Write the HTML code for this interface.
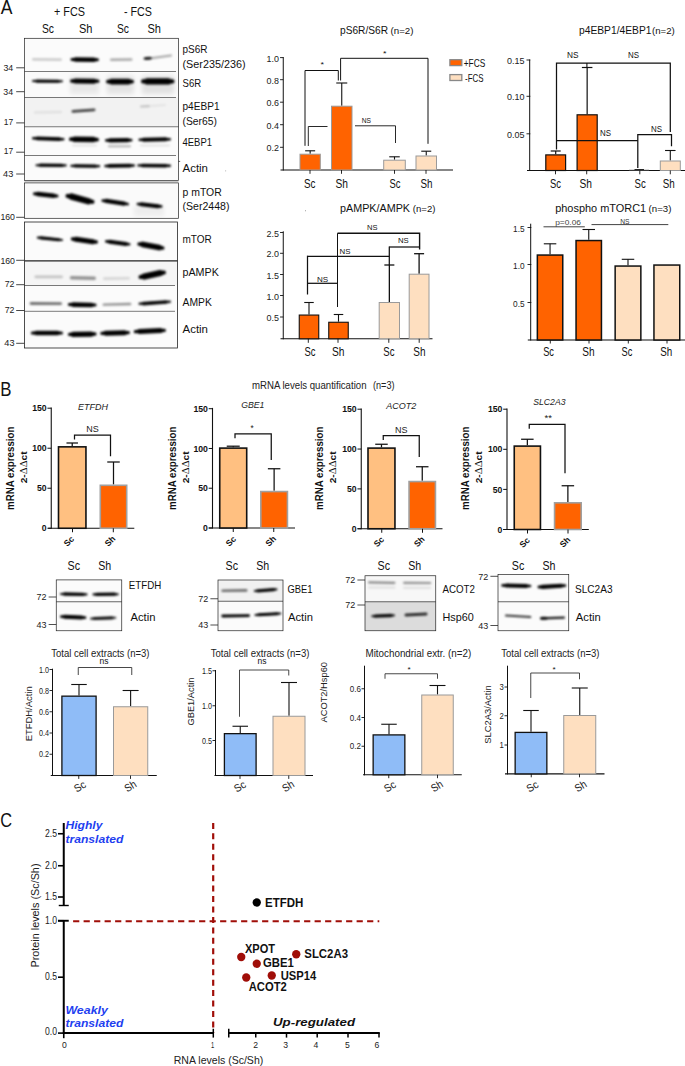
<!DOCTYPE html>
<html><head><meta charset="utf-8"><title>Figure</title>
<style>
html,body{margin:0;padding:0;background:#fff}
body{width:685px;height:1066px;overflow:hidden}
svg{display:block;font-family:"Liberation Sans",sans-serif}
</style></head><body>
<svg width="685" height="1066" viewBox="0 0 685 1066" fill="#111">
<defs>
<filter id="b1" filterUnits="userSpaceOnUse" x="0" y="0" width="685" height="1066"><feGaussianBlur stdDeviation="0.9"/></filter>
<filter id="b2" x="-20%" y="-100%" width="140%" height="300%"><feGaussianBlur stdDeviation="2"/></filter>
<filter id="b3" x="-20%" y="-50%" width="140%" height="200%"><feGaussianBlur stdDeviation="3"/></filter>
<clipPath id="clipA"><rect x="24.5" y="38.3" width="154" height="142.2"/><rect x="24.5" y="182.9" width="154" height="35.4"/><rect x="24.5" y="222" width="153" height="126"/></clipPath>
<clipPath id="cb56"><rect x="56.25" y="579.9" width="65.5" height="50.85000000000002"/></clipPath><clipPath id="cb218"><rect x="218" y="580" width="65" height="50.75"/></clipPath><clipPath id="cb365"><rect x="365" y="575.75" width="70.75" height="55.0"/></clipPath><clipPath id="cb498"><rect x="498" y="574.5" width="70.75" height="56.25"/></clipPath></defs>
<rect x="0" y="0" width="685" height="1066" fill="#fff"/>
<text x="0.80" y="14.00" font-size="20.2" textLength="11.70" lengthAdjust="spacingAndGlyphs">A</text>
<text x="54.00" y="16.20" font-size="12.8" textLength="31.00" lengthAdjust="spacingAndGlyphs">+ FCS</text>
<text x="124.00" y="16.20" font-size="12.8" textLength="28.00" lengthAdjust="spacingAndGlyphs">- FCS</text>
<text x="42.00" y="32.50" font-size="12.8" textLength="12.00" lengthAdjust="spacingAndGlyphs">Sc</text>
<text x="79.00" y="32.50" font-size="12.8" textLength="13.50" lengthAdjust="spacingAndGlyphs">Sh</text>
<text x="117.00" y="32.50" font-size="12.8" textLength="12.00" lengthAdjust="spacingAndGlyphs">Sc</text>
<text x="147.50" y="32.50" font-size="12.8" textLength="13.50" lengthAdjust="spacingAndGlyphs">Sh</text>
<rect x="24.50" y="38.30" width="154.00" height="142.20" fill="#fbfbfb" stroke="none" stroke-width="1"/>
<rect x="24.50" y="71.50" width="154.00" height="26.00" fill="#fafafa" stroke="none" stroke-width="1"/>
<rect x="24.50" y="97.50" width="154.00" height="29.20" fill="#f2f2f2" stroke="none" stroke-width="1"/>
<rect x="24.50" y="182.70" width="154.00" height="35.60" fill="#fafafa" stroke="none" stroke-width="1"/>
<rect x="24.50" y="222.00" width="153.00" height="126.00" fill="#fbfbfb" stroke="none" stroke-width="1"/>
<rect x="24.50" y="261.00" width="153.00" height="24.50" fill="#f5f5f5" stroke="none" stroke-width="1"/>
<g clip-path="url(#clipA)"><g filter="url(#b1)">
<line x1="33.10" y1="59.30" x2="60.90" y2="59.60" stroke="#000" stroke-width="2.20" stroke-linecap="round" opacity="0.22"/>
<line x1="71.98" y1="59.50" x2="97.52" y2="59.80" stroke="#000" stroke-width="2.97" stroke-linecap="round" opacity="1.0"/>
<line x1="75.60" y1="59.53" x2="93.90" y2="59.77" stroke="#000" stroke-width="4.50" stroke-linecap="round" opacity="1.0"/>
<line x1="111.20" y1="59.80" x2="131.30" y2="59.50" stroke="#000" stroke-width="2.40" stroke-linecap="round" opacity="0.33"/>
<line x1="144.49" y1="58.60" x2="151.01" y2="58.20" stroke="#000" stroke-width="1.98" stroke-linecap="round" opacity="0.75"/>
<line x1="145.85" y1="58.56" x2="149.65" y2="58.24" stroke="#000" stroke-width="3.00" stroke-linecap="round" opacity="0.75"/>
<line x1="151.00" y1="58.30" x2="171.00" y2="55.50" stroke="#000" stroke-width="2.00" stroke-linecap="round" opacity="0.35"/>
<rect x="70.00" y="76.00" width="29.00" height="18.00" fill="#000" stroke="none" stroke-width="0" opacity="0.07" filter="url(#b2)"/>
<rect x="107.00" y="76.00" width="27.00" height="18.00" fill="#000" stroke="none" stroke-width="0" opacity="0.09" filter="url(#b2)"/>
<rect x="142.00" y="76.00" width="32.00" height="18.00" fill="#000" stroke="none" stroke-width="0" opacity="0.10" filter="url(#b2)"/>
<line x1="33.06" y1="81.00" x2="61.94" y2="81.30" stroke="#000" stroke-width="2.11" stroke-linecap="round" opacity="1.0"/>
<line x1="36.70" y1="81.03" x2="58.30" y2="81.27" stroke="#000" stroke-width="3.20" stroke-linecap="round" opacity="1.0"/>
<line x1="71.65" y1="81.00" x2="97.85" y2="81.20" stroke="#000" stroke-width="3.30" stroke-linecap="round" opacity="1.0"/>
<line x1="75.45" y1="81.02" x2="94.05" y2="81.18" stroke="#000" stroke-width="5.00" stroke-linecap="round" opacity="1.0"/>
<line x1="107.85" y1="81.60" x2="132.15" y2="81.60" stroke="#000" stroke-width="3.70" stroke-linecap="round" opacity="1.0"/>
<line x1="111.60" y1="81.60" x2="128.40" y2="81.60" stroke="#000" stroke-width="5.60" stroke-linecap="round" opacity="1.0"/>
<line x1="143.05" y1="81.40" x2="172.45" y2="81.40" stroke="#000" stroke-width="4.09" stroke-linecap="round" opacity="1.0"/>
<line x1="147.45" y1="81.40" x2="168.05" y2="81.40" stroke="#000" stroke-width="6.20" stroke-linecap="round" opacity="1.0"/>
<line x1="35.00" y1="112.60" x2="61.00" y2="112.00" stroke="#000" stroke-width="2.00" stroke-linecap="round" opacity="0.09"/>
<line x1="72.90" y1="111.40" x2="94.10" y2="109.80" stroke="#000" stroke-width="2.80" stroke-linecap="round" opacity="0.72"/>
<line x1="141.10" y1="106.50" x2="148.90" y2="106.20" stroke="#000" stroke-width="2.20" stroke-linecap="round" opacity="0.2"/>
<line x1="150.80" y1="106.00" x2="165.20" y2="105.00" stroke="#000" stroke-width="1.60" stroke-linecap="round" opacity="0.08"/>
<line x1="33.19" y1="138.30" x2="63.31" y2="139.20" stroke="#000" stroke-width="2.38" stroke-linecap="round" opacity="1.0"/>
<line x1="37.05" y1="138.39" x2="59.45" y2="139.11" stroke="#000" stroke-width="3.60" stroke-linecap="round" opacity="1.0"/>
<line x1="70.85" y1="139.20" x2="97.15" y2="139.60" stroke="#000" stroke-width="3.70" stroke-linecap="round" opacity="1.0"/>
<line x1="74.80" y1="139.24" x2="93.20" y2="139.56" stroke="#000" stroke-width="5.60" stroke-linecap="round" opacity="1.0"/>
<line x1="106.39" y1="140.40" x2="131.11" y2="140.20" stroke="#000" stroke-width="2.77" stroke-linecap="round" opacity="1.0"/>
<line x1="109.85" y1="140.38" x2="127.65" y2="140.22" stroke="#000" stroke-width="4.20" stroke-linecap="round" opacity="1.0"/>
<line x1="109.00" y1="146.30" x2="130.00" y2="146.30" stroke="#000" stroke-width="2.00" stroke-linecap="round" opacity="0.3"/>
<line x1="139.75" y1="139.80" x2="169.75" y2="139.20" stroke="#000" stroke-width="2.51" stroke-linecap="round" opacity="1.0"/>
<line x1="143.65" y1="139.74" x2="165.85" y2="139.26" stroke="#000" stroke-width="3.80" stroke-linecap="round" opacity="1.0"/>
<line x1="73.00" y1="145.50" x2="96.00" y2="145.50" stroke="#000" stroke-width="2.00" stroke-linecap="round" opacity="0.1"/>
<line x1="141.00" y1="145.50" x2="169.00" y2="145.50" stroke="#000" stroke-width="2.00" stroke-linecap="round" opacity="0.1"/>
<line x1="36.56" y1="165.20" x2="65.64" y2="165.40" stroke="#000" stroke-width="2.11" stroke-linecap="round" opacity="1.0"/>
<line x1="40.22" y1="165.22" x2="61.98" y2="165.38" stroke="#000" stroke-width="3.20" stroke-linecap="round" opacity="1.0"/>
<line x1="71.42" y1="165.80" x2="99.08" y2="166.20" stroke="#000" stroke-width="2.24" stroke-linecap="round" opacity="1.0"/>
<line x1="74.99" y1="165.84" x2="95.51" y2="166.16" stroke="#000" stroke-width="3.40" stroke-linecap="round" opacity="1.0"/>
<line x1="105.55" y1="166.00" x2="133.75" y2="165.60" stroke="#000" stroke-width="2.51" stroke-linecap="round" opacity="1.0"/>
<line x1="109.27" y1="165.96" x2="130.03" y2="165.64" stroke="#000" stroke-width="3.80" stroke-linecap="round" opacity="1.0"/>
<line x1="138.49" y1="165.40" x2="169.81" y2="165.80" stroke="#000" stroke-width="2.38" stroke-linecap="round" opacity="1.0"/>
<line x1="142.47" y1="165.44" x2="165.83" y2="165.76" stroke="#000" stroke-width="3.60" stroke-linecap="round" opacity="1.0"/>
<line x1="34.52" y1="193.80" x2="56.98" y2="196.00" stroke="#000" stroke-width="3.04" stroke-linecap="round" opacity="1.0"/>
<line x1="37.85" y1="194.02" x2="53.65" y2="195.78" stroke="#000" stroke-width="4.60" stroke-linecap="round" opacity="1.0"/>
<line x1="67.61" y1="196.00" x2="92.39" y2="201.80" stroke="#000" stroke-width="4.22" stroke-linecap="round" opacity="1.0"/>
<line x1="71.60" y1="196.58" x2="88.40" y2="201.22" stroke="#000" stroke-width="6.40" stroke-linecap="round" opacity="1.0"/>
<line x1="102.79" y1="200.60" x2="127.61" y2="204.00" stroke="#000" stroke-width="2.77" stroke-linecap="round" opacity="1.0"/>
<line x1="106.26" y1="200.94" x2="124.14" y2="203.66" stroke="#000" stroke-width="4.20" stroke-linecap="round" opacity="1.0"/>
<line x1="137.92" y1="204.00" x2="161.18" y2="206.40" stroke="#000" stroke-width="2.64" stroke-linecap="round" opacity="1.0"/>
<line x1="141.19" y1="204.24" x2="157.91" y2="206.16" stroke="#000" stroke-width="4.00" stroke-linecap="round" opacity="1.0"/>
<rect x="134.00" y="206.00" width="30.00" height="10.00" fill="#000" stroke="none" stroke-width="0" opacity="0.05" filter="url(#b2)"/>
<line x1="37.86" y1="237.60" x2="61.94" y2="240.00" stroke="#000" stroke-width="2.11" stroke-linecap="round" opacity="1.0"/>
<line x1="41.02" y1="237.84" x2="58.78" y2="239.76" stroke="#000" stroke-width="3.20" stroke-linecap="round" opacity="1.0"/>
<line x1="72.45" y1="239.00" x2="96.35" y2="242.00" stroke="#000" stroke-width="3.30" stroke-linecap="round" opacity="1.0"/>
<line x1="76.02" y1="239.30" x2="92.78" y2="241.70" stroke="#000" stroke-width="5.00" stroke-linecap="round" opacity="1.0"/>
<line x1="106.32" y1="241.40" x2="129.18" y2="244.20" stroke="#000" stroke-width="2.64" stroke-linecap="round" opacity="1.0"/>
<line x1="109.55" y1="241.68" x2="125.95" y2="243.92" stroke="#000" stroke-width="4.00" stroke-linecap="round" opacity="1.0"/>
<line x1="139.15" y1="244.00" x2="162.65" y2="248.00" stroke="#000" stroke-width="3.70" stroke-linecap="round" opacity="1.0"/>
<line x1="142.82" y1="244.40" x2="158.98" y2="247.60" stroke="#000" stroke-width="5.60" stroke-linecap="round" opacity="1.0"/>
<line x1="35.80" y1="276.80" x2="61.60" y2="276.80" stroke="#000" stroke-width="2.80" stroke-linecap="round" opacity="0.2"/>
<line x1="71.50" y1="277.80" x2="94.30" y2="278.20" stroke="#000" stroke-width="3.40" stroke-linecap="round" opacity="0.4"/>
<line x1="104.30" y1="278.60" x2="128.70" y2="278.20" stroke="#000" stroke-width="2.60" stroke-linecap="round" opacity="0.13"/>
<line x1="140.55" y1="277.00" x2="163.95" y2="272.60" stroke="#000" stroke-width="4.09" stroke-linecap="round" opacity="1.0"/>
<line x1="144.35" y1="276.56" x2="160.15" y2="273.04" stroke="#000" stroke-width="6.20" stroke-linecap="round" opacity="1.0"/>
<line x1="31.00" y1="303.50" x2="60.60" y2="303.70" stroke="#000" stroke-width="2.80" stroke-linecap="round" opacity="0.55"/>
<line x1="69.42" y1="304.60" x2="95.08" y2="305.00" stroke="#000" stroke-width="3.04" stroke-linecap="round" opacity="1.0"/>
<line x1="73.07" y1="304.64" x2="91.43" y2="304.96" stroke="#000" stroke-width="4.60" stroke-linecap="round" opacity="1.0"/>
<line x1="103.80" y1="304.60" x2="130.10" y2="304.00" stroke="#000" stroke-width="2.40" stroke-linecap="round" opacity="0.42"/>
<line x1="139.69" y1="303.80" x2="169.81" y2="301.80" stroke="#000" stroke-width="2.38" stroke-linecap="round" opacity="0.9"/>
<line x1="143.55" y1="303.60" x2="165.95" y2="302.00" stroke="#000" stroke-width="3.60" stroke-linecap="round" opacity="0.9"/>
<line x1="32.32" y1="333.00" x2="61.48" y2="333.00" stroke="#000" stroke-width="3.04" stroke-linecap="round" opacity="1.0"/>
<line x1="36.32" y1="333.00" x2="57.48" y2="333.00" stroke="#000" stroke-width="4.60" stroke-linecap="round" opacity="1.0"/>
<line x1="69.62" y1="334.40" x2="94.88" y2="334.00" stroke="#000" stroke-width="3.43" stroke-linecap="round" opacity="1.0"/>
<line x1="73.37" y1="334.36" x2="91.13" y2="334.04" stroke="#000" stroke-width="5.20" stroke-linecap="round" opacity="1.0"/>
<line x1="101.85" y1="333.30" x2="128.35" y2="332.60" stroke="#000" stroke-width="3.30" stroke-linecap="round" opacity="1.0"/>
<line x1="105.68" y1="333.23" x2="124.52" y2="332.67" stroke="#000" stroke-width="5.00" stroke-linecap="round" opacity="1.0"/>
<line x1="135.35" y1="331.60" x2="164.35" y2="330.40" stroke="#000" stroke-width="3.30" stroke-linecap="round" opacity="1.0"/>
<line x1="139.43" y1="331.48" x2="160.27" y2="330.52" stroke="#000" stroke-width="5.00" stroke-linecap="round" opacity="1.0"/>
</g></g>
<rect x="24.50" y="38.30" width="154.00" height="142.20" fill="none" stroke="#222" stroke-width="0.7"/>
<line x1="24.50" y1="71.50" x2="176.00" y2="71.50" stroke="#222" stroke-width="0.6"/>
<line x1="24.50" y1="97.50" x2="176.00" y2="97.50" stroke="#222" stroke-width="0.6"/>
<line x1="24.50" y1="126.75" x2="178.50" y2="126.75" stroke="#222" stroke-width="0.6"/>
<line x1="24.50" y1="155.50" x2="176.00" y2="155.50" stroke="#222" stroke-width="0.6"/>
<line x1="24.50" y1="181.60" x2="178.50" y2="181.60" stroke="#888" stroke-width="0.5"/>
<rect x="24.50" y="182.90" width="154.00" height="35.40" fill="none" stroke="#222" stroke-width="0.7"/>
<rect x="24.50" y="222.00" width="153.00" height="126.00" fill="none" stroke="#222" stroke-width="0.8"/>
<line x1="24.50" y1="260.90" x2="177.50" y2="260.90" stroke="#222" stroke-width="1.3"/>
<line x1="24.50" y1="285.50" x2="175.00" y2="285.50" stroke="#222" stroke-width="0.6"/>
<line x1="24.50" y1="311.30" x2="175.00" y2="311.30" stroke="#222" stroke-width="0.6"/>
<line x1="178.50" y1="161.40" x2="180.20" y2="161.40" stroke="#222" stroke-width="0.7"/>
<text x="13.20" y="71.30" font-size="9.2" text-anchor="end" fill="#222" textLength="9.80" lengthAdjust="spacingAndGlyphs">34</text>
<line x1="16.20" y1="67.80" x2="24.50" y2="67.80" stroke="#333" stroke-width="0.9"/>
<text x="13.10" y="95.00" font-size="9.2" text-anchor="end" fill="#222" textLength="9.80" lengthAdjust="spacingAndGlyphs">34</text>
<line x1="16.20" y1="91.70" x2="24.50" y2="91.70" stroke="#333" stroke-width="0.9"/>
<text x="13.10" y="125.00" font-size="9.2" text-anchor="end" fill="#222" textLength="9.40" lengthAdjust="spacingAndGlyphs">17</text>
<line x1="16.20" y1="122.90" x2="24.50" y2="122.90" stroke="#333" stroke-width="0.9"/>
<text x="13.10" y="153.60" font-size="9.2" text-anchor="end" fill="#222" textLength="9.40" lengthAdjust="spacingAndGlyphs">17</text>
<line x1="16.20" y1="152.20" x2="24.50" y2="152.20" stroke="#333" stroke-width="0.9"/>
<text x="13.30" y="176.60" font-size="9.2" text-anchor="end" fill="#222" textLength="10.20" lengthAdjust="spacingAndGlyphs">43</text>
<line x1="16.20" y1="174.00" x2="24.50" y2="174.00" stroke="#333" stroke-width="0.9"/>
<text x="15.00" y="220.30" font-size="9.2" text-anchor="end" fill="#222" textLength="14.60" lengthAdjust="spacingAndGlyphs">160</text>
<line x1="16.20" y1="217.30" x2="24.50" y2="217.30" stroke="#333" stroke-width="0.9"/>
<text x="15.00" y="263.80" font-size="9.2" text-anchor="end" fill="#222" textLength="14.60" lengthAdjust="spacingAndGlyphs">160</text>
<line x1="16.20" y1="260.30" x2="24.50" y2="260.30" stroke="#333" stroke-width="0.9"/>
<text x="14.50" y="287.30" font-size="9.2" text-anchor="end" fill="#222" textLength="9.80" lengthAdjust="spacingAndGlyphs">72</text>
<line x1="16.20" y1="284.70" x2="24.50" y2="284.70" stroke="#333" stroke-width="0.9"/>
<text x="14.50" y="312.70" font-size="9.2" text-anchor="end" fill="#222" textLength="9.80" lengthAdjust="spacingAndGlyphs">72</text>
<line x1="16.20" y1="310.50" x2="24.50" y2="310.50" stroke="#333" stroke-width="0.9"/>
<text x="14.50" y="345.50" font-size="9.2" text-anchor="end" fill="#222" textLength="10.20" lengthAdjust="spacingAndGlyphs">43</text>
<line x1="16.20" y1="343.30" x2="24.50" y2="343.30" stroke="#333" stroke-width="0.9"/>
<text x="182.50" y="53.10" font-size="11.2" textLength="25.00" lengthAdjust="spacingAndGlyphs">pS6R</text>
<text x="182.50" y="67.60" font-size="11.2" textLength="63.00" lengthAdjust="spacingAndGlyphs">(Ser235/236)</text>
<text x="182.50" y="86.70" font-size="11.2" textLength="18.60" lengthAdjust="spacingAndGlyphs">S6R</text>
<text x="182.50" y="110.10" font-size="11.2" textLength="37.00" lengthAdjust="spacingAndGlyphs">p4EBP1</text>
<text x="182.50" y="124.60" font-size="11.2" textLength="34.50" lengthAdjust="spacingAndGlyphs">(Ser65)</text>
<text x="182.50" y="146.10" font-size="11.2" textLength="29.50" lengthAdjust="spacingAndGlyphs">4EBP1</text>
<text x="182.50" y="171.90" font-size="11.2" textLength="25.50" lengthAdjust="spacingAndGlyphs">Actin</text>
<text x="182.50" y="195.80" font-size="11.2" textLength="39.30" lengthAdjust="spacingAndGlyphs">p mTOR</text>
<text x="182.50" y="210.40" font-size="11.2" textLength="47.00" lengthAdjust="spacingAndGlyphs">(Ser2448)</text>
<text x="182.50" y="243.20" font-size="11.2" textLength="29.30" lengthAdjust="spacingAndGlyphs">mTOR</text>
<text x="182.50" y="276.20" font-size="11.2" textLength="36.30" lengthAdjust="spacingAndGlyphs">pAMPK</text>
<text x="182.50" y="305.50" font-size="11.2" textLength="29.30" lengthAdjust="spacingAndGlyphs">AMPK</text>
<text x="182.50" y="333.00" font-size="11.2" textLength="25.50" lengthAdjust="spacingAndGlyphs">Actin</text>
<rect x="225.30" y="170.50" width="0.80" height="0.80" fill="#888" stroke="none" stroke-width="1"/>
<text x="340.00" y="34.00" font-size="11.6" textLength="48.00" lengthAdjust="spacingAndGlyphs">pS6R/S6R</text>
<text x="390.50" y="34.00" font-size="8.8" textLength="23.00" lengthAdjust="spacingAndGlyphs">(n=2)</text>
<line x1="283.25" y1="57.00" x2="283.25" y2="170.50" stroke="#111" stroke-width="1.0"/>
<line x1="280.50" y1="170.00" x2="453.00" y2="170.00" stroke="#111" stroke-width="1.1"/>
<line x1="280.05" y1="57.60" x2="283.25" y2="57.60" stroke="#111" stroke-width="0.9"/>
<text x="279.00" y="61.60" font-size="9.7" text-anchor="end" fill="#222" textLength="12.40" lengthAdjust="spacingAndGlyphs">1.0</text>
<line x1="280.05" y1="79.70" x2="283.25" y2="79.70" stroke="#111" stroke-width="0.9"/>
<text x="279.00" y="83.70" font-size="9.7" text-anchor="end" fill="#222" textLength="12.40" lengthAdjust="spacingAndGlyphs">0.8</text>
<line x1="280.05" y1="102.20" x2="283.25" y2="102.20" stroke="#111" stroke-width="0.9"/>
<text x="279.00" y="106.20" font-size="9.7" text-anchor="end" fill="#222" textLength="12.40" lengthAdjust="spacingAndGlyphs">0.6</text>
<line x1="280.05" y1="124.70" x2="283.25" y2="124.70" stroke="#111" stroke-width="0.9"/>
<text x="279.00" y="128.70" font-size="9.7" text-anchor="end" fill="#222" textLength="12.40" lengthAdjust="spacingAndGlyphs">0.4</text>
<line x1="280.05" y1="147.30" x2="283.25" y2="147.30" stroke="#111" stroke-width="0.9"/>
<text x="279.00" y="151.30" font-size="9.7" text-anchor="end" fill="#222" textLength="12.40" lengthAdjust="spacingAndGlyphs">0.2</text>
<line x1="310.15" y1="153.70" x2="310.15" y2="150.80" stroke="#111" stroke-width="1.1"/>
<line x1="305.15" y1="150.80" x2="315.15" y2="150.80" stroke="#111" stroke-width="1.1"/>
<rect x="300.00" y="154.20" width="20.30" height="15.80" fill="#FF6300" stroke="#9a9a9a" stroke-width="1.0"/>
<line x1="341.75" y1="105.70" x2="341.75" y2="83.00" stroke="#111" stroke-width="1.1"/>
<line x1="336.25" y1="83.00" x2="347.25" y2="83.00" stroke="#111" stroke-width="1.1"/>
<rect x="331.50" y="106.20" width="20.50" height="63.80" fill="#FF6300" stroke="#9a9a9a" stroke-width="1.0"/>
<line x1="394.50" y1="159.70" x2="394.50" y2="156.80" stroke="#111" stroke-width="1.1"/>
<line x1="389.25" y1="156.80" x2="399.75" y2="156.80" stroke="#111" stroke-width="1.1"/>
<rect x="383.70" y="160.20" width="21.60" height="9.80" fill="#FEDFC0" stroke="#9a9a9a" stroke-width="1.0"/>
<line x1="426.25" y1="155.50" x2="426.25" y2="151.20" stroke="#111" stroke-width="1.1"/>
<line x1="421.25" y1="151.20" x2="431.25" y2="151.20" stroke="#111" stroke-width="1.1"/>
<rect x="416.00" y="156.00" width="20.50" height="14.00" fill="#FEDFC0" stroke="#9a9a9a" stroke-width="1.0"/>
<line x1="310.00" y1="170.00" x2="310.00" y2="173.80" stroke="#111" stroke-width="0.9"/>
<line x1="341.50" y1="170.00" x2="341.50" y2="173.80" stroke="#111" stroke-width="0.9"/>
<line x1="394.50" y1="170.00" x2="394.50" y2="173.80" stroke="#111" stroke-width="0.9"/>
<line x1="426.00" y1="170.00" x2="426.00" y2="173.80" stroke="#111" stroke-width="0.9"/>
<text x="304.00" y="187.70" font-size="11.9" textLength="11.50" lengthAdjust="spacingAndGlyphs">Sc</text>
<text x="335.50" y="187.70" font-size="11.9" textLength="12.50" lengthAdjust="spacingAndGlyphs">Sh</text>
<text x="389.50" y="187.70" font-size="11.9" textLength="11.00" lengthAdjust="spacingAndGlyphs">Sc</text>
<text x="420.50" y="187.70" font-size="11.9" textLength="12.00" lengthAdjust="spacingAndGlyphs">Sh</text>
<polyline points="305.00,145.80 305.00,70.50 338.30,70.50 338.30,80.50" fill="none" stroke="#111" stroke-width="1.0"/>
<polyline points="340.60,80.50 340.60,58.30 428.00,58.30 428.00,143.80" fill="none" stroke="#111" stroke-width="1.0"/>
<polyline points="308.30,146.00 308.30,126.50 327.50,126.50" fill="none" stroke="#111" stroke-width="0.9"/>
<polyline points="355.00,125.80 395.50,125.80 395.50,143.00" fill="none" stroke="#111" stroke-width="0.9"/>
<text x="320.60" y="66.50" font-size="8" textLength="3.50" lengthAdjust="spacingAndGlyphs">*</text>
<text x="383.00" y="56.00" font-size="8" textLength="3.50" lengthAdjust="spacingAndGlyphs">*</text>
<text x="361.70" y="123.00" font-size="7" textLength="9.30" lengthAdjust="spacingAndGlyphs">NS</text>
<rect x="449.90" y="59.70" width="11.90" height="5.90" fill="#FF6300" stroke="#888" stroke-width="1.3"/>
<text x="463.70" y="66.80" font-size="10.4" textLength="21.60" lengthAdjust="spacingAndGlyphs">+FCS</text>
<rect x="449.90" y="74.60" width="11.90" height="5.90" fill="#FEDFC0" stroke="#888" stroke-width="1.3"/>
<text x="465.00" y="81.70" font-size="10.4" textLength="18.50" lengthAdjust="spacingAndGlyphs">-FCS</text>
<text x="579.00" y="34.00" font-size="11.6" textLength="72.50" lengthAdjust="spacingAndGlyphs">p4EBP1/4EBP1</text>
<text x="652.00" y="34.00" font-size="8.8" textLength="22.80" lengthAdjust="spacingAndGlyphs">(n=2)</text>
<line x1="529.70" y1="59.50" x2="529.70" y2="171.00" stroke="#111" stroke-width="1.0"/>
<line x1="527.00" y1="170.50" x2="685.00" y2="170.50" stroke="#111" stroke-width="1.1"/>
<line x1="526.50" y1="60.00" x2="530.30" y2="60.00" stroke="#111" stroke-width="0.9"/>
<text x="524.60" y="64.00" font-size="9.7" text-anchor="end" fill="#222" textLength="17.50" lengthAdjust="spacingAndGlyphs">0.15</text>
<line x1="526.50" y1="96.30" x2="530.30" y2="96.30" stroke="#111" stroke-width="0.9"/>
<text x="524.60" y="100.30" font-size="9.7" text-anchor="end" fill="#222" textLength="17.50" lengthAdjust="spacingAndGlyphs">0.10</text>
<line x1="526.50" y1="133.80" x2="530.30" y2="133.80" stroke="#111" stroke-width="0.9"/>
<text x="524.60" y="137.80" font-size="9.7" text-anchor="end" fill="#222" textLength="17.50" lengthAdjust="spacingAndGlyphs">0.05</text>
<line x1="555.70" y1="154.30" x2="555.70" y2="151.00" stroke="#111" stroke-width="1.2"/>
<line x1="550.70" y1="151.00" x2="560.70" y2="151.00" stroke="#111" stroke-width="1.2"/>
<rect x="545.80" y="154.90" width="19.80" height="15.60" fill="#FF6300" stroke="#111" stroke-width="1.2"/>
<line x1="587.15" y1="114.20" x2="587.15" y2="67.50" stroke="#111" stroke-width="1.2"/>
<line x1="581.90" y1="67.50" x2="592.40" y2="67.50" stroke="#111" stroke-width="1.2"/>
<rect x="577.10" y="114.80" width="20.10" height="55.70" fill="#FF6300" stroke="#111" stroke-width="1.2"/>
<line x1="586.90" y1="63.00" x2="586.90" y2="68.00" stroke="#111" stroke-width="1.1"/>
<line x1="629.00" y1="169.80" x2="649.00" y2="169.80" stroke="#bbb" stroke-width="0.8"/>
<line x1="634.50" y1="169.50" x2="644.00" y2="169.50" stroke="#111" stroke-width="0.9"/>
<line x1="670.30" y1="160.50" x2="670.30" y2="150.50" stroke="#111" stroke-width="1.1"/>
<line x1="665.05" y1="150.50" x2="675.55" y2="150.50" stroke="#111" stroke-width="1.1"/>
<rect x="660.30" y="161.00" width="20.00" height="9.50" fill="#FEDFC0" stroke="#9a9a9a" stroke-width="1.0"/>
<line x1="555.50" y1="170.50" x2="555.50" y2="174.30" stroke="#111" stroke-width="0.9"/>
<line x1="586.70" y1="170.50" x2="586.70" y2="174.30" stroke="#111" stroke-width="0.9"/>
<line x1="639.80" y1="170.50" x2="639.80" y2="174.30" stroke="#111" stroke-width="0.9"/>
<line x1="670.30" y1="170.50" x2="670.30" y2="174.30" stroke="#111" stroke-width="0.9"/>
<text x="550.00" y="187.70" font-size="11.9" textLength="11.00" lengthAdjust="spacingAndGlyphs">Sc</text>
<text x="579.50" y="187.70" font-size="11.9" textLength="12.50" lengthAdjust="spacingAndGlyphs">Sh</text>
<text x="634.50" y="187.70" font-size="11.9" textLength="11.20" lengthAdjust="spacingAndGlyphs">Sc</text>
<text x="662.80" y="187.70" font-size="11.9" textLength="12.00" lengthAdjust="spacingAndGlyphs">Sh</text>
<polyline points="556.50,149.50 556.50,63.00 670.30,63.00 670.30,132.00" fill="none" stroke="#111" stroke-width="1.25"/>
<line x1="556.50" y1="140.60" x2="637.80" y2="140.60" stroke="#111" stroke-width="1.25"/>
<polyline points="637.80,168.00 637.80,134.50 671.50,134.50 671.50,146.30" fill="none" stroke="#111" stroke-width="1.25"/>
<text x="567.00" y="58.30" font-size="8.8" textLength="11.50" lengthAdjust="spacingAndGlyphs">NS</text>
<text x="628.00" y="58.30" font-size="8.8" textLength="11.00" lengthAdjust="spacingAndGlyphs">NS</text>
<text x="600.00" y="135.50" font-size="8.2" textLength="11.00" lengthAdjust="spacingAndGlyphs">NS</text>
<text x="651.00" y="132.00" font-size="8.2" textLength="11.00" lengthAdjust="spacingAndGlyphs">NS</text>
<text x="340.00" y="211.60" font-size="11.6" textLength="70.00" lengthAdjust="spacingAndGlyphs">pAMPK/AMPK</text>
<text x="412.80" y="211.60" font-size="8.8" textLength="22.60" lengthAdjust="spacingAndGlyphs">(n=2)</text>
<line x1="283.25" y1="231.30" x2="283.25" y2="339.30" stroke="#111" stroke-width="1.0"/>
<line x1="280.50" y1="338.80" x2="432.50" y2="338.80" stroke="#111" stroke-width="1.1"/>
<line x1="280.05" y1="232.50" x2="283.25" y2="232.50" stroke="#111" stroke-width="0.9"/>
<text x="279.00" y="236.50" font-size="9.7" text-anchor="end" fill="#222" textLength="12.40" lengthAdjust="spacingAndGlyphs">2.5</text>
<line x1="280.05" y1="253.30" x2="283.25" y2="253.30" stroke="#111" stroke-width="0.9"/>
<text x="279.00" y="257.30" font-size="9.7" text-anchor="end" fill="#222" textLength="12.40" lengthAdjust="spacingAndGlyphs">2.0</text>
<line x1="280.05" y1="274.50" x2="283.25" y2="274.50" stroke="#111" stroke-width="0.9"/>
<text x="279.00" y="278.50" font-size="9.7" text-anchor="end" fill="#222" textLength="12.40" lengthAdjust="spacingAndGlyphs">1.5</text>
<line x1="280.05" y1="295.50" x2="283.25" y2="295.50" stroke="#111" stroke-width="0.9"/>
<text x="279.00" y="299.50" font-size="9.7" text-anchor="end" fill="#222" textLength="12.40" lengthAdjust="spacingAndGlyphs">1.0</text>
<line x1="280.05" y1="317.00" x2="283.25" y2="317.00" stroke="#111" stroke-width="0.9"/>
<text x="279.00" y="321.00" font-size="9.7" text-anchor="end" fill="#222" textLength="12.40" lengthAdjust="spacingAndGlyphs">0.5</text>
<line x1="309.00" y1="314.50" x2="309.00" y2="302.50" stroke="#111" stroke-width="1.1"/>
<line x1="304.25" y1="302.50" x2="313.75" y2="302.50" stroke="#111" stroke-width="1.1"/>
<rect x="299.25" y="315.05" width="19.50" height="23.75" fill="#FF6300" stroke="#111" stroke-width="1.1"/>
<line x1="338.50" y1="321.70" x2="338.50" y2="314.50" stroke="#111" stroke-width="1.1"/>
<line x1="333.75" y1="314.50" x2="343.25" y2="314.50" stroke="#111" stroke-width="1.1"/>
<rect x="328.75" y="322.25" width="19.50" height="16.55" fill="#FF6300" stroke="#111" stroke-width="1.1"/>
<line x1="389.35" y1="302.00" x2="389.35" y2="265.00" stroke="#111" stroke-width="1.3"/>
<line x1="384.35" y1="265.00" x2="394.35" y2="265.00" stroke="#111" stroke-width="1.3"/>
<rect x="379.20" y="302.50" width="20.30" height="36.30" fill="#FEDFC0" stroke="#9a9a9a" stroke-width="1.0"/>
<line x1="419.10" y1="273.70" x2="419.10" y2="253.70" stroke="#111" stroke-width="1.3"/>
<line x1="414.10" y1="253.70" x2="424.10" y2="253.70" stroke="#111" stroke-width="1.3"/>
<rect x="409.20" y="274.20" width="19.80" height="64.60" fill="#FEDFC0" stroke="#9a9a9a" stroke-width="1.0"/>
<line x1="308.30" y1="338.80" x2="308.30" y2="342.80" stroke="#111" stroke-width="0.9"/>
<line x1="338.00" y1="338.80" x2="338.00" y2="342.80" stroke="#111" stroke-width="0.9"/>
<line x1="388.80" y1="338.80" x2="388.80" y2="342.80" stroke="#111" stroke-width="0.9"/>
<line x1="419.20" y1="338.80" x2="419.20" y2="342.80" stroke="#111" stroke-width="0.9"/>
<text x="304.50" y="355.70" font-size="11.9" textLength="11.00" lengthAdjust="spacingAndGlyphs">Sc</text>
<text x="332.00" y="355.70" font-size="11.9" textLength="12.50" lengthAdjust="spacingAndGlyphs">Sh</text>
<text x="383.30" y="355.70" font-size="11.9" textLength="11.20" lengthAdjust="spacingAndGlyphs">Sc</text>
<text x="413.30" y="355.70" font-size="11.9" textLength="12.20" lengthAdjust="spacingAndGlyphs">Sh</text>
<line x1="307.50" y1="255.70" x2="307.50" y2="294.50" stroke="#111" stroke-width="1.25"/>
<line x1="307.50" y1="283.30" x2="337.50" y2="283.30" stroke="#111" stroke-width="1.25"/>
<line x1="337.50" y1="233.30" x2="337.50" y2="307.00" stroke="#111" stroke-width="1.0"/>
<line x1="307.50" y1="256.30" x2="389.30" y2="256.30" stroke="#111" stroke-width="1.25"/>
<line x1="389.30" y1="246.40" x2="389.30" y2="265.00" stroke="#111" stroke-width="1.25"/>
<line x1="389.30" y1="247.00" x2="420.00" y2="247.00" stroke="#111" stroke-width="1.25"/>
<polyline points="337.50,233.30 419.60,233.30 419.60,249.50" fill="none" stroke="#111" stroke-width="1.4"/>
<text x="317.00" y="281.80" font-size="8" textLength="11.20" lengthAdjust="spacingAndGlyphs">NS</text>
<text x="339.50" y="253.80" font-size="8" textLength="11.00" lengthAdjust="spacingAndGlyphs">NS</text>
<text x="398.00" y="243.30" font-size="8" textLength="10.80" lengthAdjust="spacingAndGlyphs">NS</text>
<text x="367.00" y="230.00" font-size="8" textLength="10.50" lengthAdjust="spacingAndGlyphs">NS</text>
<rect x="305.20" y="210.40" width="0.80" height="0.80" fill="#666" stroke="none" stroke-width="1"/>
<text x="555.20" y="211.60" font-size="11.6" textLength="91.00" lengthAdjust="spacingAndGlyphs">phospho mTORC1</text>
<text x="648.60" y="211.60" font-size="8.8" textLength="22.80" lengthAdjust="spacingAndGlyphs">(n=3)</text>
<line x1="530.70" y1="223.70" x2="530.70" y2="340.50" stroke="#111" stroke-width="1.0"/>
<line x1="527.80" y1="340.00" x2="685.00" y2="340.00" stroke="#111" stroke-width="1.1"/>
<line x1="527.50" y1="227.50" x2="531.30" y2="227.50" stroke="#111" stroke-width="0.9"/>
<text x="524.60" y="231.50" font-size="9.7" text-anchor="end" fill="#222" textLength="11.50" lengthAdjust="spacingAndGlyphs">1.5</text>
<line x1="527.50" y1="264.50" x2="531.30" y2="264.50" stroke="#111" stroke-width="0.9"/>
<text x="524.60" y="268.50" font-size="9.7" text-anchor="end" fill="#222" textLength="11.50" lengthAdjust="spacingAndGlyphs">1.0</text>
<line x1="527.50" y1="302.50" x2="531.30" y2="302.50" stroke="#111" stroke-width="0.9"/>
<text x="524.60" y="306.50" font-size="9.7" text-anchor="end" fill="#222" textLength="11.50" lengthAdjust="spacingAndGlyphs">0.5</text>
<line x1="550.05" y1="254.30" x2="550.05" y2="243.80" stroke="#111" stroke-width="1.1"/>
<line x1="543.80" y1="243.80" x2="556.30" y2="243.80" stroke="#111" stroke-width="1.1"/>
<rect x="537.35" y="255.05" width="25.40" height="84.95" fill="#FF6300" stroke="#111" stroke-width="1.5"/>
<line x1="588.75" y1="239.80" x2="588.75" y2="229.50" stroke="#111" stroke-width="1.1"/>
<line x1="582.50" y1="229.50" x2="595.00" y2="229.50" stroke="#111" stroke-width="1.1"/>
<rect x="576.05" y="240.55" width="25.40" height="99.45" fill="#FF6300" stroke="#111" stroke-width="1.5"/>
<line x1="628.00" y1="265.30" x2="628.00" y2="259.30" stroke="#111" stroke-width="1.1"/>
<line x1="621.75" y1="259.30" x2="634.25" y2="259.30" stroke="#111" stroke-width="1.1"/>
<rect x="615.15" y="266.05" width="25.70" height="73.95" fill="#FEDFC0" stroke="#111" stroke-width="1.5"/>
<rect x="653.95" y="265.05" width="25.80" height="74.95" fill="#FEDFC0" stroke="#111" stroke-width="1.5"/>
<line x1="550.30" y1="340.00" x2="550.30" y2="343.50" stroke="#111" stroke-width="0.9"/>
<line x1="589.00" y1="340.00" x2="589.00" y2="343.50" stroke="#111" stroke-width="0.9"/>
<line x1="628.30" y1="340.00" x2="628.30" y2="343.50" stroke="#111" stroke-width="0.9"/>
<line x1="667.00" y1="340.00" x2="667.00" y2="343.50" stroke="#111" stroke-width="0.9"/>
<text x="543.20" y="355.70" font-size="11.9" textLength="10.80" lengthAdjust="spacingAndGlyphs">Sc</text>
<text x="582.20" y="355.70" font-size="11.9" textLength="12.30" lengthAdjust="spacingAndGlyphs">Sh</text>
<text x="621.50" y="355.70" font-size="11.9" textLength="10.80" lengthAdjust="spacingAndGlyphs">Sc</text>
<text x="660.20" y="355.70" font-size="11.9" textLength="12.00" lengthAdjust="spacingAndGlyphs">Sh</text>
<line x1="543.50" y1="226.80" x2="584.80" y2="226.80" stroke="#111" stroke-width="0.8"/>
<line x1="591.50" y1="224.60" x2="668.30" y2="224.60" stroke="#111" stroke-width="0.8"/>
<text x="555.20" y="225.40" font-size="7.8" fill="#444" textLength="25.80" lengthAdjust="spacingAndGlyphs">p=0.06</text>
<text x="620.20" y="223.80" font-size="7.2" fill="#333" textLength="9.30" lengthAdjust="spacingAndGlyphs">NS</text>
<text x="0.30" y="395.80" font-size="20.2" textLength="11.20" lengthAdjust="spacingAndGlyphs">B</text>
<text x="252.00" y="389.20" font-size="10.4" fill="#222" textLength="114.50" lengthAdjust="spacingAndGlyphs">mRNA levels quantification</text>
<text x="373.00" y="389.20" font-size="10.4" fill="#222" textLength="21.50" lengthAdjust="spacingAndGlyphs">(n=3)</text>
<line x1="51.25" y1="407.40" x2="51.25" y2="528.75" stroke="#111" stroke-width="1.1"/>
<line x1="48.20" y1="528.25" x2="134.30" y2="528.25" stroke="#111" stroke-width="1.2"/>
<line x1="47.45" y1="408.20" x2="51.25" y2="408.20" stroke="#111" stroke-width="1.0"/>
<text x="46.65" y="411.30" font-size="8.7" text-anchor="end" font-weight="bold" textLength="14.50" lengthAdjust="spacingAndGlyphs">150</text>
<line x1="47.45" y1="448.22" x2="51.25" y2="448.22" stroke="#111" stroke-width="1.0"/>
<text x="46.65" y="451.32" font-size="8.7" text-anchor="end" font-weight="bold" textLength="14.50" lengthAdjust="spacingAndGlyphs">100</text>
<line x1="47.45" y1="488.23" x2="51.25" y2="488.23" stroke="#111" stroke-width="1.0"/>
<text x="46.65" y="491.33" font-size="8.7" text-anchor="end" font-weight="bold" textLength="9.60" lengthAdjust="spacingAndGlyphs">50</text>
<line x1="47.45" y1="528.25" x2="51.25" y2="528.25" stroke="#111" stroke-width="1.0"/>
<text x="46.65" y="531.35" font-size="8.7" text-anchor="end" font-weight="bold" textLength="4.80" lengthAdjust="spacingAndGlyphs">0</text>
<text x="78.00" y="410.00" font-size="8.6" font-style="italic" fill="#222" textLength="30.00" lengthAdjust="spacingAndGlyphs">ETFDH</text>
<text x="14.10" y="510.00" font-size="10.2" font-weight="bold" textLength="83.40" lengthAdjust="spacingAndGlyphs" transform="rotate(-90 14.10 510.00)">mRNA expression</text>
<text x="27.20" y="483.3" font-size="9.8" font-weight="bold" textLength="31.9" lengthAdjust="spacingAndGlyphs" transform="rotate(-90 27.20 483.3)">2-<tspan font-weight="normal" font-family="Liberation Serif" font-size="10.5">ΔΔ</tspan>ct</text>
<line x1="72.22" y1="446.05" x2="72.22" y2="443.00" stroke="#111" stroke-width="1.25"/>
<line x1="66.47" y1="443.00" x2="77.97" y2="443.00" stroke="#111" stroke-width="1.25"/>
<rect x="58.50" y="446.85" width="27.45" height="81.40" fill="#FFC081" stroke="#111" stroke-width="1.6"/>
<line x1="113.50" y1="484.50" x2="113.50" y2="462.00" stroke="#111" stroke-width="1.25"/>
<line x1="107.25" y1="462.00" x2="119.75" y2="462.00" stroke="#111" stroke-width="1.25"/>
<rect x="100.30" y="485.30" width="26.40" height="42.95" fill="#FF6300" stroke="#a0a0a0" stroke-width="1.6"/>
<line x1="72.50" y1="528.25" x2="72.50" y2="532.25" stroke="#111" stroke-width="1.0"/>
<line x1="113.30" y1="528.25" x2="113.30" y2="532.25" stroke="#111" stroke-width="1.0"/>
<polyline points="74.50,439.50 74.50,435.00 110.50,435.00 110.50,456.25" fill="none" stroke="#111" stroke-width="1.25"/>
<text x="86.20" y="432.00" font-size="9.5" fill="#222" textLength="12.50" lengthAdjust="spacingAndGlyphs">NS</text>
<text x="68.75" y="541.25" font-size="8.6" font-weight="bold" text-anchor="middle" transform="rotate(-45 68.75 541.25)" dy="3">Sc</text>
<text x="110.00" y="541.00" font-size="8.6" font-weight="bold" text-anchor="middle" transform="rotate(-45 110.00 541.00)" dy="3">Sh</text>
<line x1="212.50" y1="407.90" x2="212.50" y2="528.50" stroke="#111" stroke-width="1.1"/>
<line x1="208.70" y1="528.00" x2="295.00" y2="528.00" stroke="#111" stroke-width="1.2"/>
<line x1="208.70" y1="408.70" x2="212.50" y2="408.70" stroke="#111" stroke-width="1.0"/>
<text x="207.90" y="411.80" font-size="8.7" text-anchor="end" font-weight="bold" textLength="14.50" lengthAdjust="spacingAndGlyphs">150</text>
<line x1="208.70" y1="448.47" x2="212.50" y2="448.47" stroke="#111" stroke-width="1.0"/>
<text x="207.90" y="451.57" font-size="8.7" text-anchor="end" font-weight="bold" textLength="14.50" lengthAdjust="spacingAndGlyphs">100</text>
<line x1="208.70" y1="488.23" x2="212.50" y2="488.23" stroke="#111" stroke-width="1.0"/>
<text x="207.90" y="491.33" font-size="8.7" text-anchor="end" font-weight="bold" textLength="9.60" lengthAdjust="spacingAndGlyphs">50</text>
<line x1="208.70" y1="528.00" x2="212.50" y2="528.00" stroke="#111" stroke-width="1.0"/>
<text x="207.90" y="531.10" font-size="8.7" text-anchor="end" font-weight="bold" textLength="4.80" lengthAdjust="spacingAndGlyphs">0</text>
<text x="241.20" y="407.50" font-size="8.6" font-style="italic" fill="#222" textLength="23.30" lengthAdjust="spacingAndGlyphs">GBE1</text>
<text x="176.10" y="510.00" font-size="10.2" font-weight="bold" textLength="83.40" lengthAdjust="spacingAndGlyphs" transform="rotate(-90 176.10 510.00)">mRNA expression</text>
<text x="189.20" y="483.3" font-size="9.8" font-weight="bold" textLength="31.9" lengthAdjust="spacingAndGlyphs" transform="rotate(-90 189.20 483.3)">2-<tspan font-weight="normal" font-family="Liberation Serif" font-size="10.5">ΔΔ</tspan>ct</text>
<line x1="233.22" y1="447.30" x2="233.22" y2="446.20" stroke="#111" stroke-width="1.25"/>
<line x1="226.72" y1="446.20" x2="239.72" y2="446.20" stroke="#111" stroke-width="1.25"/>
<rect x="219.75" y="448.10" width="26.95" height="79.90" fill="#FFC081" stroke="#111" stroke-width="1.6"/>
<line x1="274.12" y1="490.75" x2="274.12" y2="468.75" stroke="#111" stroke-width="1.25"/>
<line x1="267.88" y1="468.75" x2="280.38" y2="468.75" stroke="#111" stroke-width="1.25"/>
<rect x="260.80" y="491.55" width="26.65" height="36.45" fill="#FF6300" stroke="#a0a0a0" stroke-width="1.6"/>
<line x1="233.25" y1="528.00" x2="233.25" y2="532.00" stroke="#111" stroke-width="1.0"/>
<line x1="273.75" y1="528.00" x2="273.75" y2="532.00" stroke="#111" stroke-width="1.0"/>
<polyline points="235.00,438.25 235.00,433.75 271.25,433.75 271.25,460.00" fill="none" stroke="#111" stroke-width="1.25"/>
<text x="250.50" y="430.50" font-size="8.5" fill="#222" textLength="3.20" lengthAdjust="spacingAndGlyphs">*</text>
<text x="230.75" y="541.25" font-size="8.6" font-weight="bold" text-anchor="middle" transform="rotate(-45 230.75 541.25)" dy="3">Sc</text>
<text x="270.75" y="541.00" font-size="8.6" font-weight="bold" text-anchor="middle" transform="rotate(-45 270.75 541.00)" dy="3">Sh</text>
<line x1="361.25" y1="408.40" x2="361.25" y2="529.25" stroke="#111" stroke-width="1.1"/>
<line x1="357.50" y1="528.75" x2="442.50" y2="528.75" stroke="#111" stroke-width="1.2"/>
<line x1="357.45" y1="409.20" x2="361.25" y2="409.20" stroke="#111" stroke-width="1.0"/>
<text x="356.65" y="412.30" font-size="8.7" text-anchor="end" font-weight="bold" textLength="14.50" lengthAdjust="spacingAndGlyphs">150</text>
<line x1="357.45" y1="449.05" x2="361.25" y2="449.05" stroke="#111" stroke-width="1.0"/>
<text x="356.65" y="452.15" font-size="8.7" text-anchor="end" font-weight="bold" textLength="14.50" lengthAdjust="spacingAndGlyphs">100</text>
<line x1="357.45" y1="488.90" x2="361.25" y2="488.90" stroke="#111" stroke-width="1.0"/>
<text x="356.65" y="492.00" font-size="8.7" text-anchor="end" font-weight="bold" textLength="9.60" lengthAdjust="spacingAndGlyphs">50</text>
<line x1="357.45" y1="528.75" x2="361.25" y2="528.75" stroke="#111" stroke-width="1.0"/>
<text x="356.65" y="531.85" font-size="8.7" text-anchor="end" font-weight="bold" textLength="4.80" lengthAdjust="spacingAndGlyphs">0</text>
<text x="386.20" y="408.75" font-size="8.6" font-style="italic" fill="#222" textLength="30.00" lengthAdjust="spacingAndGlyphs">ACOT2</text>
<text x="322.60" y="510.00" font-size="10.2" font-weight="bold" textLength="83.40" lengthAdjust="spacingAndGlyphs" transform="rotate(-90 322.60 510.00)">mRNA expression</text>
<text x="335.70" y="483.3" font-size="9.8" font-weight="bold" textLength="31.9" lengthAdjust="spacingAndGlyphs" transform="rotate(-90 335.70 483.3)">2-<tspan font-weight="normal" font-family="Liberation Serif" font-size="10.5">ΔΔ</tspan>ct</text>
<line x1="381.48" y1="447.30" x2="381.48" y2="444.25" stroke="#111" stroke-width="1.25"/>
<line x1="375.23" y1="444.25" x2="387.73" y2="444.25" stroke="#111" stroke-width="1.25"/>
<rect x="368.00" y="448.10" width="26.95" height="80.65" fill="#FFC081" stroke="#111" stroke-width="1.6"/>
<line x1="422.25" y1="480.75" x2="422.25" y2="466.75" stroke="#111" stroke-width="1.25"/>
<line x1="416.00" y1="466.75" x2="428.50" y2="466.75" stroke="#111" stroke-width="1.25"/>
<rect x="409.05" y="481.55" width="26.40" height="47.20" fill="#FF6300" stroke="#a0a0a0" stroke-width="1.6"/>
<line x1="381.75" y1="528.75" x2="381.75" y2="532.75" stroke="#111" stroke-width="1.0"/>
<line x1="422.50" y1="528.75" x2="422.50" y2="532.75" stroke="#111" stroke-width="1.0"/>
<polyline points="383.25,440.00 383.25,435.50 419.25,435.50 419.25,457.00" fill="none" stroke="#111" stroke-width="1.25"/>
<text x="395.00" y="432.50" font-size="9.5" fill="#222" textLength="12.50" lengthAdjust="spacingAndGlyphs">NS</text>
<text x="378.75" y="541.75" font-size="8.6" font-weight="bold" text-anchor="middle" transform="rotate(-45 378.75 541.75)" dy="3">Sc</text>
<text x="419.25" y="541.50" font-size="8.6" font-weight="bold" text-anchor="middle" transform="rotate(-45 419.25 541.50)" dy="3">Sh</text>
<line x1="507.00" y1="408.40" x2="507.00" y2="530.00" stroke="#111" stroke-width="1.1"/>
<line x1="503.20" y1="529.50" x2="588.80" y2="529.50" stroke="#111" stroke-width="1.2"/>
<line x1="503.20" y1="409.20" x2="507.00" y2="409.20" stroke="#111" stroke-width="1.0"/>
<text x="502.40" y="412.30" font-size="8.7" text-anchor="end" font-weight="bold" textLength="14.50" lengthAdjust="spacingAndGlyphs">150</text>
<line x1="503.20" y1="449.30" x2="507.00" y2="449.30" stroke="#111" stroke-width="1.0"/>
<text x="502.40" y="452.40" font-size="8.7" text-anchor="end" font-weight="bold" textLength="14.50" lengthAdjust="spacingAndGlyphs">100</text>
<line x1="503.20" y1="489.40" x2="507.00" y2="489.40" stroke="#111" stroke-width="1.0"/>
<text x="502.40" y="492.50" font-size="8.7" text-anchor="end" font-weight="bold" textLength="9.60" lengthAdjust="spacingAndGlyphs">50</text>
<line x1="503.20" y1="529.50" x2="507.00" y2="529.50" stroke="#111" stroke-width="1.0"/>
<text x="502.40" y="532.60" font-size="8.7" text-anchor="end" font-weight="bold" textLength="4.80" lengthAdjust="spacingAndGlyphs">0</text>
<text x="533.20" y="404.50" font-size="8.6" font-style="italic" fill="#222" textLength="32.30" lengthAdjust="spacingAndGlyphs">SLC2A3</text>
<text x="469.10" y="510.00" font-size="10.2" font-weight="bold" textLength="83.40" lengthAdjust="spacingAndGlyphs" transform="rotate(-90 469.10 510.00)">mRNA expression</text>
<text x="482.20" y="483.3" font-size="9.8" font-weight="bold" textLength="31.9" lengthAdjust="spacingAndGlyphs" transform="rotate(-90 482.20 483.3)">2-<tspan font-weight="normal" font-family="Liberation Serif" font-size="10.5">ΔΔ</tspan>ct</text>
<line x1="527.35" y1="445.30" x2="527.35" y2="439.25" stroke="#111" stroke-width="1.25"/>
<line x1="521.10" y1="439.25" x2="533.60" y2="439.25" stroke="#111" stroke-width="1.25"/>
<rect x="514.25" y="446.10" width="26.20" height="83.40" fill="#FFC081" stroke="#111" stroke-width="1.6"/>
<line x1="567.88" y1="502.00" x2="567.88" y2="485.75" stroke="#111" stroke-width="1.25"/>
<line x1="561.62" y1="485.75" x2="574.12" y2="485.75" stroke="#111" stroke-width="1.25"/>
<rect x="554.55" y="502.80" width="26.65" height="26.70" fill="#FF6300" stroke="#a0a0a0" stroke-width="1.6"/>
<line x1="527.50" y1="529.50" x2="527.50" y2="533.50" stroke="#111" stroke-width="1.0"/>
<line x1="568.00" y1="529.50" x2="568.00" y2="533.50" stroke="#111" stroke-width="1.0"/>
<polyline points="529.25,428.75 529.25,424.25 565.00,424.25 565.00,473.25" fill="none" stroke="#111" stroke-width="1.25"/>
<text x="544.50" y="420.50" font-size="8.5" fill="#222" textLength="7.50" lengthAdjust="spacingAndGlyphs">**</text>
<text x="524.50" y="542.50" font-size="8.6" font-weight="bold" text-anchor="middle" transform="rotate(-45 524.50 542.50)" dy="3">Sc</text>
<text x="565.00" y="542.00" font-size="8.6" font-weight="bold" text-anchor="middle" transform="rotate(-45 565.00 542.00)" dy="3">Sh</text>
<text x="67.50" y="570.40" font-size="12.7" textLength="12.50" lengthAdjust="spacingAndGlyphs">Sc</text>
<text x="98.25" y="570.40" font-size="12.7" textLength="13.00" lengthAdjust="spacingAndGlyphs">Sh</text>
<rect x="56.25" y="579.90" width="65.50" height="21.85" fill="#fbfbfb" stroke="none" stroke-width="1"/>
<rect x="56.25" y="601.75" width="65.50" height="29.00" fill="#fbfbfb" stroke="none" stroke-width="1"/>
<g clip-path="url(#cb56)"><g filter="url(#b1)">
<line x1="61.12" y1="594.00" x2="86.38" y2="594.40" stroke="#000" stroke-width="2.24" stroke-linecap="round" opacity="1.0"/>
<line x1="64.45" y1="594.04" x2="83.05" y2="594.36" stroke="#000" stroke-width="3.40" stroke-linecap="round" opacity="1.0"/>
<line x1="93.56" y1="594.40" x2="117.74" y2="594.20" stroke="#000" stroke-width="2.11" stroke-linecap="round" opacity="1.0"/>
<line x1="96.73" y1="594.38" x2="114.57" y2="594.22" stroke="#000" stroke-width="3.20" stroke-linecap="round" opacity="1.0"/>
<line x1="61.32" y1="616.60" x2="84.98" y2="617.60" stroke="#000" stroke-width="2.64" stroke-linecap="round" opacity="1.0"/>
<line x1="64.63" y1="616.70" x2="81.67" y2="617.50" stroke="#000" stroke-width="4.00" stroke-linecap="round" opacity="1.0"/>
<line x1="91.06" y1="618.60" x2="115.24" y2="617.80" stroke="#000" stroke-width="2.11" stroke-linecap="round" opacity="0.8"/>
<line x1="94.23" y1="618.52" x2="112.07" y2="617.88" stroke="#000" stroke-width="3.20" stroke-linecap="round" opacity="0.8"/>
</g></g>
<rect x="56.25" y="579.90" width="65.50" height="50.85" fill="none" stroke="#222" stroke-width="0.7"/>
<line x1="56.25" y1="601.75" x2="121.75" y2="601.75" stroke="#222" stroke-width="0.7"/>
<text x="46.45" y="600.20" font-size="9.4" text-anchor="end" fill="#222" textLength="10.00" lengthAdjust="spacingAndGlyphs">72</text>
<line x1="48.65" y1="597.00" x2="56.25" y2="597.00" stroke="#222" stroke-width="0.8"/>
<text x="46.45" y="627.70" font-size="9.4" text-anchor="end" fill="#222" textLength="10.00" lengthAdjust="spacingAndGlyphs">43</text>
<line x1="48.65" y1="624.50" x2="56.25" y2="624.50" stroke="#222" stroke-width="0.8"/>
<text x="128.75" y="588.50" font-size="10.8" textLength="32.50" lengthAdjust="spacingAndGlyphs">ETFDH</text>
<text x="130.50" y="621.30" font-size="10.8" textLength="25.00" lengthAdjust="spacingAndGlyphs">Actin</text>
<text x="225.50" y="570.40" font-size="12.7" textLength="12.50" lengthAdjust="spacingAndGlyphs">Sc</text>
<text x="256.25" y="570.40" font-size="12.7" textLength="13.00" lengthAdjust="spacingAndGlyphs">Sh</text>
<rect x="218.00" y="580.00" width="65.00" height="21.25" fill="#f1f1f1" stroke="none" stroke-width="1"/>
<rect x="218.00" y="601.25" width="65.00" height="29.50" fill="#fbfbfb" stroke="none" stroke-width="1"/>
<g clip-path="url(#cb218)"><g filter="url(#b1)">
<line x1="222.60" y1="590.80" x2="246.20" y2="590.40" stroke="#000" stroke-width="2.60" stroke-linecap="round" opacity="0.55"/>
<line x1="254.86" y1="591.00" x2="276.44" y2="589.40" stroke="#000" stroke-width="2.11" stroke-linecap="round" opacity="0.95"/>
<line x1="257.77" y1="590.84" x2="273.53" y2="589.56" stroke="#000" stroke-width="3.20" stroke-linecap="round" opacity="0.95"/>
<line x1="222.70" y1="616.00" x2="248.60" y2="615.60" stroke="#000" stroke-width="2.80" stroke-linecap="round" opacity="1.0"/>
<line x1="255.49" y1="615.00" x2="280.31" y2="613.60" stroke="#000" stroke-width="1.98" stroke-linecap="round" opacity="1.0"/>
<line x1="258.68" y1="614.86" x2="277.12" y2="613.74" stroke="#000" stroke-width="3.00" stroke-linecap="round" opacity="1.0"/>
</g></g>
<rect x="218.00" y="580.00" width="65.00" height="50.75" fill="none" stroke="#222" stroke-width="0.7"/>
<line x1="218.00" y1="601.25" x2="283.00" y2="601.25" stroke="#222" stroke-width="0.7"/>
<text x="208.20" y="601.95" font-size="9.4" text-anchor="end" fill="#222" textLength="10.00" lengthAdjust="spacingAndGlyphs">72</text>
<line x1="210.40" y1="598.75" x2="218.00" y2="598.75" stroke="#222" stroke-width="0.8"/>
<text x="208.20" y="628.20" font-size="9.4" text-anchor="end" fill="#222" textLength="10.00" lengthAdjust="spacingAndGlyphs">43</text>
<line x1="210.40" y1="625.00" x2="218.00" y2="625.00" stroke="#222" stroke-width="0.8"/>
<text x="287.50" y="593.00" font-size="10.8" textLength="25.00" lengthAdjust="spacingAndGlyphs">GBE1</text>
<text x="288.00" y="621.30" font-size="10.8" textLength="25.00" lengthAdjust="spacingAndGlyphs">Actin</text>
<text x="377.50" y="570.40" font-size="12.7" textLength="12.50" lengthAdjust="spacingAndGlyphs">Sc</text>
<text x="408.25" y="570.40" font-size="12.7" textLength="13.00" lengthAdjust="spacingAndGlyphs">Sh</text>
<rect x="365.00" y="575.75" width="70.75" height="26.00" fill="#f7f7f7" stroke="none" stroke-width="1"/>
<rect x="365.00" y="601.75" width="70.75" height="29.00" fill="#dcdcdc" stroke="none" stroke-width="1"/>
<g clip-path="url(#cb365)"><g filter="url(#b1)">
<line x1="369.10" y1="582.40" x2="394.40" y2="582.80" stroke="#000" stroke-width="2.20" stroke-linecap="round" opacity="0.45"/>
<line x1="404.10" y1="582.80" x2="430.20" y2="583.00" stroke="#000" stroke-width="2.20" stroke-linecap="round" opacity="0.42"/>
<line x1="369.00" y1="587.60" x2="394.50" y2="587.60" stroke="#000" stroke-width="2.00" stroke-linecap="round" opacity="0.1"/>
<line x1="404.00" y1="587.80" x2="430.30" y2="587.80" stroke="#000" stroke-width="2.00" stroke-linecap="round" opacity="0.1"/>
<line x1="372.42" y1="616.20" x2="393.88" y2="615.40" stroke="#000" stroke-width="2.24" stroke-linecap="round" opacity="0.85"/>
<line x1="375.37" y1="616.12" x2="390.93" y2="615.48" stroke="#000" stroke-width="3.40" stroke-linecap="round" opacity="0.85"/>
<line x1="405.90" y1="615.00" x2="426.10" y2="614.00" stroke="#000" stroke-width="2.80" stroke-linecap="round" opacity="0.8"/>
</g></g>
<rect x="365.00" y="575.75" width="70.75" height="55.00" fill="none" stroke="#222" stroke-width="0.7"/>
<line x1="365.00" y1="601.75" x2="435.75" y2="601.75" stroke="#222" stroke-width="0.7"/>
<text x="355.20" y="583.20" font-size="9.4" text-anchor="end" fill="#222" textLength="10.00" lengthAdjust="spacingAndGlyphs">72</text>
<line x1="357.40" y1="580.00" x2="365.00" y2="580.00" stroke="#222" stroke-width="0.8"/>
<text x="355.20" y="608.20" font-size="9.4" text-anchor="end" fill="#222" textLength="10.00" lengthAdjust="spacingAndGlyphs">72</text>
<line x1="357.40" y1="605.00" x2="365.00" y2="605.00" stroke="#222" stroke-width="0.8"/>
<text x="442.50" y="593.00" font-size="10.8" textLength="32.50" lengthAdjust="spacingAndGlyphs">ACOT2</text>
<text x="442.50" y="621.00" font-size="10.8" textLength="31.30" lengthAdjust="spacingAndGlyphs">Hsp60</text>
<text x="511.75" y="570.40" font-size="12.7" textLength="12.50" lengthAdjust="spacingAndGlyphs">Sc</text>
<text x="542.50" y="570.40" font-size="12.7" textLength="13.00" lengthAdjust="spacingAndGlyphs">Sh</text>
<rect x="498.00" y="574.50" width="70.75" height="27.25" fill="#fbfbfb" stroke="none" stroke-width="1"/>
<rect x="498.00" y="601.75" width="70.75" height="29.00" fill="#fbfbfb" stroke="none" stroke-width="1"/>
<g clip-path="url(#cb498)"><g filter="url(#b1)">
<line x1="502.62" y1="585.40" x2="529.98" y2="586.00" stroke="#000" stroke-width="2.64" stroke-linecap="round" opacity="1.0"/>
<line x1="506.30" y1="585.46" x2="526.30" y2="585.94" stroke="#000" stroke-width="4.00" stroke-linecap="round" opacity="1.0"/>
<line x1="538.89" y1="587.00" x2="564.91" y2="585.60" stroke="#000" stroke-width="2.77" stroke-linecap="round" opacity="1.0"/>
<line x1="542.48" y1="586.86" x2="561.32" y2="585.74" stroke="#000" stroke-width="4.20" stroke-linecap="round" opacity="1.0"/>
<line x1="506.00" y1="615.60" x2="530.30" y2="617.00" stroke="#000" stroke-width="2.00" stroke-linecap="round" opacity="0.8"/>
<line x1="541.10" y1="618.40" x2="563.90" y2="617.60" stroke="#000" stroke-width="2.20" stroke-linecap="round" opacity="0.9"/>
<line x1="540.99" y1="618.20" x2="547.01" y2="618.20" stroke="#000" stroke-width="1.98" stroke-linecap="round" opacity="0.8"/>
<line x1="542.30" y1="618.20" x2="545.70" y2="618.20" stroke="#000" stroke-width="3.00" stroke-linecap="round" opacity="0.8"/>
</g></g>
<rect x="498.00" y="574.50" width="70.75" height="56.25" fill="none" stroke="#222" stroke-width="0.7"/>
<line x1="498.00" y1="601.75" x2="568.75" y2="601.75" stroke="#222" stroke-width="0.7"/>
<text x="488.20" y="579.50" font-size="9.4" text-anchor="end" fill="#222" textLength="10.00" lengthAdjust="spacingAndGlyphs">72</text>
<line x1="490.40" y1="576.30" x2="498.00" y2="576.30" stroke="#222" stroke-width="0.8"/>
<text x="488.20" y="628.70" font-size="9.4" text-anchor="end" fill="#222" textLength="10.00" lengthAdjust="spacingAndGlyphs">43</text>
<line x1="490.40" y1="625.50" x2="498.00" y2="625.50" stroke="#222" stroke-width="0.8"/>
<text x="575.00" y="593.00" font-size="10.8" textLength="37.50" lengthAdjust="spacingAndGlyphs">SLC2A3</text>
<text x="575.80" y="621.30" font-size="10.8" textLength="25.00" lengthAdjust="spacingAndGlyphs">Actin</text>
<text x="51.25" y="657.30" font-size="10" fill="#222" textLength="98.30" lengthAdjust="spacingAndGlyphs">Total cell extracts (n=3)</text>
<line x1="52.50" y1="668.70" x2="52.50" y2="776.00" stroke="#111" stroke-width="1.0"/>
<line x1="50.75" y1="775.50" x2="156.75" y2="775.50" stroke="#111" stroke-width="1.1"/>
<line x1="49.50" y1="669.50" x2="52.50" y2="669.50" stroke="#111" stroke-width="0.9"/>
<text x="48.90" y="672.50" font-size="8.6" text-anchor="end" fill="#222" textLength="10.00" lengthAdjust="spacingAndGlyphs">1.0</text>
<line x1="49.50" y1="690.50" x2="52.50" y2="690.50" stroke="#111" stroke-width="0.9"/>
<text x="48.90" y="693.50" font-size="8.6" text-anchor="end" fill="#222" textLength="10.00" lengthAdjust="spacingAndGlyphs">0.8</text>
<line x1="49.50" y1="711.75" x2="52.50" y2="711.75" stroke="#111" stroke-width="0.9"/>
<text x="48.90" y="714.75" font-size="8.6" text-anchor="end" fill="#222" textLength="10.00" lengthAdjust="spacingAndGlyphs">0.6</text>
<line x1="49.50" y1="733.00" x2="52.50" y2="733.00" stroke="#111" stroke-width="0.9"/>
<text x="48.90" y="736.00" font-size="8.6" text-anchor="end" fill="#222" textLength="10.00" lengthAdjust="spacingAndGlyphs">0.4</text>
<line x1="49.50" y1="754.25" x2="52.50" y2="754.25" stroke="#111" stroke-width="0.9"/>
<text x="48.90" y="757.25" font-size="8.6" text-anchor="end" fill="#222" textLength="10.00" lengthAdjust="spacingAndGlyphs">0.2</text>
<text x="32.50" y="741.30" font-size="9.8" fill="#222" textLength="55.00" lengthAdjust="spacingAndGlyphs" transform="rotate(-90 32.50 741.30)">ETFDH/Actin</text>
<line x1="79.00" y1="695.50" x2="79.00" y2="684.50" stroke="#111" stroke-width="1.1"/>
<line x1="71.25" y1="684.50" x2="86.75" y2="684.50" stroke="#111" stroke-width="1.1"/>
<rect x="61.90" y="696.15" width="34.20" height="79.35" fill="#8FBCF7" stroke="#111" stroke-width="1.3"/>
<line x1="130.62" y1="706.25" x2="130.62" y2="690.50" stroke="#111" stroke-width="1.1"/>
<line x1="122.62" y1="690.50" x2="138.62" y2="690.50" stroke="#111" stroke-width="1.1"/>
<rect x="113.50" y="706.75" width="34.25" height="68.75" fill="#FEDFC0" stroke="#9a9a9a" stroke-width="1.0"/>
<line x1="78.75" y1="775.50" x2="78.75" y2="778.90" stroke="#111" stroke-width="0.9"/>
<line x1="130.50" y1="775.50" x2="130.50" y2="778.90" stroke="#111" stroke-width="0.9"/>
<polyline points="78.25,675.00 78.25,667.50 131.75,667.50 131.75,675.00" fill="none" stroke="#333" stroke-width="0.9"/>
<text x="99.50" y="664.40" font-size="9.8" textLength="9.00" lengthAdjust="spacingAndGlyphs">ns</text>
<text x="80.00" y="786.75" font-size="10.8" text-anchor="middle" transform="rotate(-32 80.00 786.75)" dy="3.4" textLength="12" lengthAdjust="spacingAndGlyphs" fill="#222">Sc</text>
<text x="130.50" y="786.50" font-size="10.8" text-anchor="middle" transform="rotate(-32 130.50 786.50)" dy="3.4" textLength="12" lengthAdjust="spacingAndGlyphs" fill="#222">Sh</text>
<text x="210.75" y="657.30" font-size="10" fill="#222" textLength="98.70" lengthAdjust="spacingAndGlyphs">Total cell extracts (n=3)</text>
<line x1="215.50" y1="670.00" x2="215.50" y2="776.00" stroke="#111" stroke-width="1.0"/>
<line x1="214.50" y1="775.50" x2="313.00" y2="775.50" stroke="#111" stroke-width="1.1"/>
<line x1="212.50" y1="670.75" x2="215.50" y2="670.75" stroke="#111" stroke-width="0.9"/>
<text x="211.90" y="673.75" font-size="8.6" text-anchor="end" fill="#222" textLength="10.00" lengthAdjust="spacingAndGlyphs">1.5</text>
<line x1="212.50" y1="705.75" x2="215.50" y2="705.75" stroke="#111" stroke-width="0.9"/>
<text x="211.90" y="708.75" font-size="8.6" text-anchor="end" fill="#222" textLength="10.00" lengthAdjust="spacingAndGlyphs">1.0</text>
<line x1="212.50" y1="740.50" x2="215.50" y2="740.50" stroke="#111" stroke-width="0.9"/>
<text x="211.90" y="743.50" font-size="8.6" text-anchor="end" fill="#222" textLength="10.00" lengthAdjust="spacingAndGlyphs">0.5</text>
<text x="194.30" y="725.50" font-size="9.8" fill="#222" textLength="48.00" lengthAdjust="spacingAndGlyphs" transform="rotate(-90 194.30 725.50)">GBE1/Actin</text>
<line x1="240.25" y1="733.00" x2="240.25" y2="726.25" stroke="#111" stroke-width="1.1"/>
<line x1="232.50" y1="726.25" x2="248.00" y2="726.25" stroke="#111" stroke-width="1.1"/>
<rect x="224.40" y="733.65" width="31.70" height="41.85" fill="#8FBCF7" stroke="#111" stroke-width="1.3"/>
<line x1="289.00" y1="715.75" x2="289.00" y2="682.50" stroke="#111" stroke-width="1.1"/>
<line x1="281.00" y1="682.50" x2="297.00" y2="682.50" stroke="#111" stroke-width="1.1"/>
<rect x="273.00" y="716.25" width="32.00" height="59.25" fill="#FEDFC0" stroke="#9a9a9a" stroke-width="1.0"/>
<line x1="240.00" y1="775.50" x2="240.00" y2="778.90" stroke="#111" stroke-width="0.9"/>
<line x1="288.75" y1="775.50" x2="288.75" y2="778.90" stroke="#111" stroke-width="0.9"/>
<polyline points="239.50,716.75 239.50,670.00 288.75,670.00 288.75,675.50" fill="none" stroke="#333" stroke-width="0.9"/>
<text x="257.50" y="664.40" font-size="9.8" textLength="9.00" lengthAdjust="spacingAndGlyphs">ns</text>
<text x="240.00" y="786.75" font-size="10.8" text-anchor="middle" transform="rotate(-32 240.00 786.75)" dy="3.4" textLength="12" lengthAdjust="spacingAndGlyphs" fill="#222">Sc</text>
<text x="288.25" y="786.50" font-size="10.8" text-anchor="middle" transform="rotate(-32 288.25 786.50)" dy="3.4" textLength="12" lengthAdjust="spacingAndGlyphs" fill="#222">Sh</text>
<text x="365.50" y="657.30" font-size="10" fill="#222" textLength="105.70" lengthAdjust="spacingAndGlyphs">Mitochondrial extr. (n=2)</text>
<line x1="364.50" y1="665.70" x2="364.50" y2="775.30" stroke="#111" stroke-width="1.0"/>
<line x1="363.00" y1="774.80" x2="461.75" y2="774.80" stroke="#111" stroke-width="1.1"/>
<line x1="361.50" y1="688.75" x2="364.50" y2="688.75" stroke="#111" stroke-width="0.9"/>
<text x="360.90" y="691.75" font-size="8.6" text-anchor="end" fill="#222" textLength="11.20" lengthAdjust="spacingAndGlyphs">0.6</text>
<line x1="361.50" y1="717.50" x2="364.50" y2="717.50" stroke="#111" stroke-width="0.9"/>
<text x="360.90" y="720.50" font-size="8.6" text-anchor="end" fill="#222" textLength="11.20" lengthAdjust="spacingAndGlyphs">0.4</text>
<line x1="361.50" y1="746.25" x2="364.50" y2="746.25" stroke="#111" stroke-width="0.9"/>
<text x="360.90" y="749.25" font-size="8.6" text-anchor="end" fill="#222" textLength="11.20" lengthAdjust="spacingAndGlyphs">0.2</text>
<text x="326.90" y="722.50" font-size="9.8" fill="#222" textLength="60.50" lengthAdjust="spacingAndGlyphs" transform="rotate(-90 326.90 722.50)">ACOT2/Hsp60</text>
<line x1="389.00" y1="734.25" x2="389.00" y2="724.25" stroke="#111" stroke-width="1.1"/>
<line x1="381.25" y1="724.25" x2="396.75" y2="724.25" stroke="#111" stroke-width="1.1"/>
<rect x="373.15" y="734.90" width="31.70" height="39.90" fill="#8FBCF7" stroke="#111" stroke-width="1.3"/>
<line x1="437.50" y1="694.50" x2="437.50" y2="685.50" stroke="#111" stroke-width="1.1"/>
<line x1="429.50" y1="685.50" x2="445.50" y2="685.50" stroke="#111" stroke-width="1.1"/>
<rect x="421.75" y="695.00" width="31.50" height="79.80" fill="#FEDFC0" stroke="#9a9a9a" stroke-width="1.0"/>
<line x1="388.75" y1="774.80" x2="388.75" y2="778.20" stroke="#111" stroke-width="0.9"/>
<line x1="437.50" y1="774.80" x2="437.50" y2="778.20" stroke="#111" stroke-width="0.9"/>
<polyline points="385.00,678.75 385.00,673.75 437.50,673.75 437.50,678.75" fill="none" stroke="#333" stroke-width="0.9"/>
<text x="407.50" y="671.50" font-size="8" textLength="3.20" lengthAdjust="spacingAndGlyphs">*</text>
<text x="390.00" y="786.75" font-size="10.8" text-anchor="middle" transform="rotate(-32 390.00 786.75)" dy="3.4" textLength="12" lengthAdjust="spacingAndGlyphs" fill="#222">Sc</text>
<text x="437.00" y="786.50" font-size="10.8" text-anchor="middle" transform="rotate(-32 437.00 786.50)" dy="3.4" textLength="12" lengthAdjust="spacingAndGlyphs" fill="#222">Sh</text>
<text x="501.25" y="657.30" font-size="10" fill="#222" textLength="98.30" lengthAdjust="spacingAndGlyphs">Total cell extracts (n=3)</text>
<line x1="507.50" y1="665.70" x2="507.50" y2="774.40" stroke="#111" stroke-width="1.0"/>
<line x1="505.00" y1="773.90" x2="604.50" y2="773.90" stroke="#111" stroke-width="1.1"/>
<line x1="504.50" y1="687.00" x2="507.50" y2="687.00" stroke="#111" stroke-width="0.9"/>
<text x="503.90" y="690.00" font-size="8.6" text-anchor="end" fill="#222" textLength="4.30" lengthAdjust="spacingAndGlyphs">3</text>
<line x1="504.50" y1="715.75" x2="507.50" y2="715.75" stroke="#111" stroke-width="0.9"/>
<text x="503.90" y="718.75" font-size="8.6" text-anchor="end" fill="#222" textLength="4.30" lengthAdjust="spacingAndGlyphs">2</text>
<line x1="504.50" y1="745.00" x2="507.50" y2="745.00" stroke="#111" stroke-width="0.9"/>
<text x="503.90" y="748.00" font-size="8.6" text-anchor="end" fill="#222" textLength="4.30" lengthAdjust="spacingAndGlyphs">1</text>
<text x="491.10" y="743.70" font-size="9.8" fill="#222" textLength="58.30" lengthAdjust="spacingAndGlyphs" transform="rotate(-90 491.10 743.70)">SLC2A3/Actin</text>
<line x1="531.00" y1="731.75" x2="531.00" y2="710.50" stroke="#111" stroke-width="1.1"/>
<line x1="523.25" y1="710.50" x2="538.75" y2="710.50" stroke="#111" stroke-width="1.1"/>
<rect x="515.15" y="732.40" width="31.70" height="41.50" fill="#8FBCF7" stroke="#111" stroke-width="1.3"/>
<line x1="579.75" y1="715.00" x2="579.75" y2="688.00" stroke="#111" stroke-width="1.1"/>
<line x1="571.75" y1="688.00" x2="587.75" y2="688.00" stroke="#111" stroke-width="1.1"/>
<rect x="563.75" y="715.50" width="32.00" height="58.40" fill="#FEDFC0" stroke="#9a9a9a" stroke-width="1.0"/>
<line x1="531.25" y1="773.90" x2="531.25" y2="777.30" stroke="#111" stroke-width="0.9"/>
<line x1="579.50" y1="773.90" x2="579.50" y2="777.30" stroke="#111" stroke-width="0.9"/>
<polyline points="530.75,698.00 530.75,673.00 579.50,673.00 579.50,679.25" fill="none" stroke="#333" stroke-width="0.9"/>
<text x="552.50" y="671.50" font-size="8" textLength="3.20" lengthAdjust="spacingAndGlyphs">*</text>
<text x="532.50" y="786.75" font-size="10.8" text-anchor="middle" transform="rotate(-32 532.50 786.75)" dy="3.4" textLength="12" lengthAdjust="spacingAndGlyphs" fill="#222">Sc</text>
<text x="580.75" y="786.50" font-size="10.8" text-anchor="middle" transform="rotate(-32 580.75 786.50)" dy="3.4" textLength="12" lengthAdjust="spacingAndGlyphs" fill="#222">Sh</text>
<text x="0.20" y="827.10" font-size="20" textLength="11.80" lengthAdjust="spacingAndGlyphs">C</text>
<line x1="63.75" y1="823.00" x2="63.75" y2="905.50" stroke="#000" stroke-width="2.0"/>
<line x1="58.75" y1="905.50" x2="68.75" y2="905.50" stroke="#000" stroke-width="1.4"/>
<line x1="63.75" y1="920.00" x2="63.75" y2="1034.10" stroke="#000" stroke-width="2.0"/>
<line x1="58.00" y1="833.75" x2="63.75" y2="833.75" stroke="#000" stroke-width="1.6"/>
<text x="57.00" y="836.65" font-size="10" text-anchor="end" fill="#222" textLength="12.00" lengthAdjust="spacingAndGlyphs">2.5</text>
<line x1="58.00" y1="865.75" x2="63.75" y2="865.75" stroke="#000" stroke-width="1.6"/>
<text x="57.00" y="868.65" font-size="10" text-anchor="end" fill="#222" textLength="12.00" lengthAdjust="spacingAndGlyphs">2.0</text>
<line x1="58.00" y1="897.00" x2="63.75" y2="897.00" stroke="#000" stroke-width="1.6"/>
<text x="57.00" y="899.90" font-size="10" text-anchor="end" fill="#222" textLength="12.00" lengthAdjust="spacingAndGlyphs">1.5</text>
<line x1="58.00" y1="920.75" x2="63.75" y2="920.75" stroke="#000" stroke-width="1.6"/>
<text x="57.00" y="923.65" font-size="10" text-anchor="end" fill="#222" textLength="12.00" lengthAdjust="spacingAndGlyphs">1.0</text>
<line x1="58.00" y1="977.20" x2="63.75" y2="977.20" stroke="#000" stroke-width="1.6"/>
<text x="57.00" y="980.10" font-size="10" text-anchor="end" fill="#222" textLength="12.00" lengthAdjust="spacingAndGlyphs">0.5</text>
<line x1="58.00" y1="1033.10" x2="63.75" y2="1033.10" stroke="#000" stroke-width="1.6"/>
<text x="57.00" y="1035.30" font-size="10" text-anchor="end" fill="#222" textLength="12.00" lengthAdjust="spacingAndGlyphs">0.0</text>
<line x1="58.00" y1="920.75" x2="68.75" y2="920.75" stroke="#000" stroke-width="1.9"/>
<text x="38.90" y="967.50" font-size="11" fill="#222" textLength="104.00" lengthAdjust="spacingAndGlyphs" transform="rotate(-90 38.90 967.50)">Protein levels (Sc/Sh)</text>
<text x="65.40" y="829.30" font-size="11.2" font-weight="bold" font-style="italic" fill="#1F3FF0" textLength="37.00" lengthAdjust="spacingAndGlyphs">Highly</text>
<text x="65.40" y="842.70" font-size="11.2" font-weight="bold" font-style="italic" fill="#1F3FF0" textLength="58.00" lengthAdjust="spacingAndGlyphs">translated</text>
<text x="65.40" y="1013.80" font-size="11.2" font-weight="bold" font-style="italic" fill="#1F3FF0" textLength="42.50" lengthAdjust="spacingAndGlyphs">Weakly</text>
<text x="65.40" y="1027.10" font-size="11.2" font-weight="bold" font-style="italic" fill="#1F3FF0" textLength="58.00" lengthAdjust="spacingAndGlyphs">translated</text>
<line x1="73.1" y1="921.3" x2="379.3" y2="921.3" stroke="#A00E08" stroke-width="2.0" stroke-dasharray="6.2 4.3"/>
<line x1="213.2" y1="822.9" x2="213.2" y2="1033" stroke="#A00E08" stroke-width="2.2" stroke-dasharray="6 4.45"/>
<line x1="62.75" y1="1033.10" x2="213.30" y2="1033.10" stroke="#000" stroke-width="2.0"/>
<line x1="213.30" y1="1028.75" x2="213.30" y2="1037.60" stroke="#000" stroke-width="1.5"/>
<line x1="228.75" y1="1033.10" x2="379.80" y2="1033.10" stroke="#000" stroke-width="2.0"/>
<line x1="228.75" y1="1028.75" x2="228.75" y2="1037.60" stroke="#000" stroke-width="1.5"/>
<line x1="255.75" y1="1033.10" x2="255.75" y2="1037.60" stroke="#000" stroke-width="1.5"/>
<line x1="286.50" y1="1033.10" x2="286.50" y2="1037.60" stroke="#000" stroke-width="1.5"/>
<line x1="317.20" y1="1033.10" x2="317.20" y2="1037.60" stroke="#000" stroke-width="1.5"/>
<line x1="348.00" y1="1033.10" x2="348.00" y2="1037.60" stroke="#000" stroke-width="1.5"/>
<line x1="379.00" y1="1033.10" x2="379.00" y2="1037.60" stroke="#000" stroke-width="1.5"/>
<line x1="63.75" y1="1033.10" x2="63.75" y2="1038.20" stroke="#000" stroke-width="1.6"/>
<text x="64.50" y="1048.20" font-size="9.6" text-anchor="middle" fill="#222" textLength="4.80" lengthAdjust="spacingAndGlyphs">0</text>
<text x="212.60" y="1048.20" font-size="9.6" text-anchor="middle" fill="#222" textLength="3.20" lengthAdjust="spacingAndGlyphs">1</text>
<text x="255.70" y="1048.20" font-size="9.6" text-anchor="middle" fill="#222" textLength="4.80" lengthAdjust="spacingAndGlyphs">2</text>
<text x="285.60" y="1048.20" font-size="9.6" text-anchor="middle" fill="#222" textLength="4.80" lengthAdjust="spacingAndGlyphs">3</text>
<text x="315.80" y="1048.20" font-size="9.6" text-anchor="middle" fill="#222" textLength="4.80" lengthAdjust="spacingAndGlyphs">4</text>
<text x="347.50" y="1048.20" font-size="9.6" text-anchor="middle" fill="#222" textLength="4.80" lengthAdjust="spacingAndGlyphs">5</text>
<text x="376.80" y="1048.20" font-size="9.6" text-anchor="middle" fill="#222" textLength="4.80" lengthAdjust="spacingAndGlyphs">6</text>
<text x="173.75" y="1063.70" font-size="11" fill="#222" textLength="89.50" lengthAdjust="spacingAndGlyphs">RNA levels (Sc/Sh)</text>
<text x="273.00" y="1026.00" font-size="11.6" font-weight="bold" font-style="italic" textLength="82.00" lengthAdjust="spacingAndGlyphs">Up-regulated</text>
<circle cx="256.75" cy="902.5" r="4.15" fill="#000"/>
<text x="265.00" y="907.00" font-size="12.2" font-weight="bold" textLength="38.30" lengthAdjust="spacingAndGlyphs">ETFDH</text>
<circle cx="241.25" cy="957" r="4.15" fill="#A00E08"/>
<text x="245.00" y="953.00" font-size="12.2" font-weight="bold" textLength="30.00" lengthAdjust="spacingAndGlyphs">XPOT</text>
<circle cx="256.75" cy="963.75" r="4.15" fill="#A00E08"/>
<text x="263.00" y="967.00" font-size="12.2" font-weight="bold" textLength="30.80" lengthAdjust="spacingAndGlyphs">GBE1</text>
<circle cx="296.25" cy="954.25" r="4.15" fill="#A00E08"/>
<text x="304.30" y="958.30" font-size="12.2" font-weight="bold" textLength="43.70" lengthAdjust="spacingAndGlyphs">SLC2A3</text>
<circle cx="271.75" cy="975.5" r="4.15" fill="#A00E08"/>
<text x="280.75" y="979.50" font-size="12.2" font-weight="bold" textLength="35.50" lengthAdjust="spacingAndGlyphs">USP14</text>
<circle cx="246.25" cy="977.5" r="4.15" fill="#A00E08"/>
<text x="248.75" y="991.30" font-size="12.2" font-weight="bold" textLength="38.00" lengthAdjust="spacingAndGlyphs">ACOT2</text>
</svg>
</body></html>
